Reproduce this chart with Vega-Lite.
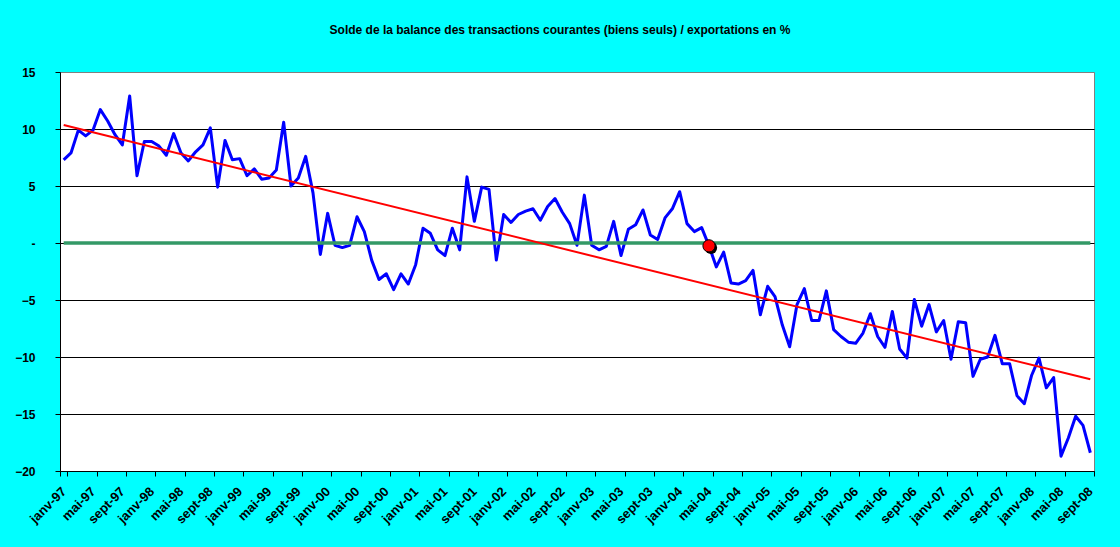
{
  "$schema": "https://vega.github.io/schema/vega-lite/v6.json",
  "width": 1034,
  "height": 399,
  "autosize": {"type": "none"},
  "padding": {"left": 60, "top": 72, "right": 26, "bottom": 76},
  "background": "#00FFFF",
  "title": {
    "text": "Solde de la balance des transactions courantes (biens seuls) / exportations en %",
    "font": "Liberation Sans",
    "fontSize": 12,
    "fontWeight": "bold",
    "color": "black",
    "anchor": "middle",
    "offset": 29,
    "dx": -17
  },
  "config": {
    "font": "Liberation Sans",
    "view": {"fill": "white", "stroke": "#808080", "strokeWidth": 1}
  },
  "datasets": {
    "solde": [
      {"mois": "janv-97", "valeur": 7.3}, {"mois": "févr-97", "valeur": 7.9}, {"mois": "mars-97", "valeur": 9.9}, {"mois": "avr-97", "valeur": 9.4},
      {"mois": "mai-97", "valeur": 9.9}, {"mois": "juin-97", "valeur": 11.7}, {"mois": "juil-97", "valeur": 10.7}, {"mois": "août-97", "valeur": 9.5},
      {"mois": "sept-97", "valeur": 8.6}, {"mois": "oct-97", "valeur": 12.9}, {"mois": "nov-97", "valeur": 5.9}, {"mois": "déc-97", "valeur": 8.9},
      {"mois": "janv-98", "valeur": 8.9}, {"mois": "févr-98", "valeur": 8.5}, {"mois": "mars-98", "valeur": 7.7}, {"mois": "avr-98", "valeur": 9.6},
      {"mois": "mai-98", "valeur": 7.9}, {"mois": "juin-98", "valeur": 7.2}, {"mois": "juil-98", "valeur": 8.0}, {"mois": "août-98", "valeur": 8.6},
      {"mois": "sept-98", "valeur": 10.1}, {"mois": "oct-98", "valeur": 4.9}, {"mois": "nov-98", "valeur": 9.0}, {"mois": "déc-98", "valeur": 7.3},
      {"mois": "janv-99", "valeur": 7.4}, {"mois": "févr-99", "valeur": 5.9}, {"mois": "mars-99", "valeur": 6.5}, {"mois": "avr-99", "valeur": 5.6},
      {"mois": "mai-99", "valeur": 5.7}, {"mois": "juin-99", "valeur": 6.4}, {"mois": "juil-99", "valeur": 10.6}, {"mois": "août-99", "valeur": 5.0},
      {"mois": "sept-99", "valeur": 5.7}, {"mois": "oct-99", "valeur": 7.6}, {"mois": "nov-99", "valeur": 4.4}, {"mois": "déc-99", "valeur": -1.0},
      {"mois": "janv-00", "valeur": 2.6}, {"mois": "févr-00", "valeur": -0.2}, {"mois": "mars-00", "valeur": -0.4}, {"mois": "avr-00", "valeur": -0.2},
      {"mois": "mai-00", "valeur": 2.3}, {"mois": "juin-00", "valeur": 1.0}, {"mois": "juil-00", "valeur": -1.5}, {"mois": "août-00", "valeur": -3.2},
      {"mois": "sept-00", "valeur": -2.7}, {"mois": "oct-00", "valeur": -4.1}, {"mois": "nov-00", "valeur": -2.7}, {"mois": "déc-00", "valeur": -3.6},
      {"mois": "janv-01", "valeur": -1.9}, {"mois": "févr-01", "valeur": 1.3}, {"mois": "mars-01", "valeur": 0.85}, {"mois": "avr-01", "valeur": -0.6},
      {"mois": "mai-01", "valeur": -1.1}, {"mois": "juin-01", "valeur": 1.3}, {"mois": "juil-01", "valeur": -0.6}, {"mois": "août-01", "valeur": 5.8},
      {"mois": "sept-01", "valeur": 1.9}, {"mois": "oct-01", "valeur": 4.9}, {"mois": "nov-01", "valeur": 4.7}, {"mois": "déc-01", "valeur": -1.5},
      {"mois": "janv-02", "valeur": 2.5}, {"mois": "févr-02", "valeur": 1.8}, {"mois": "mars-02", "valeur": 2.5}, {"mois": "avr-02", "valeur": 2.8},
      {"mois": "mai-02", "valeur": 3.0}, {"mois": "juin-02", "valeur": 2.0}, {"mois": "juil-02", "valeur": 3.2}, {"mois": "août-02", "valeur": 3.9},
      {"mois": "sept-02", "valeur": 2.7}, {"mois": "oct-02", "valeur": 1.7}, {"mois": "nov-02", "valeur": -0.2}, {"mois": "déc-02", "valeur": 4.2},
      {"mois": "janv-03", "valeur": -0.2}, {"mois": "févr-03", "valeur": -0.6}, {"mois": "mars-03", "valeur": -0.3}, {"mois": "avr-03", "valeur": 1.9},
      {"mois": "mai-03", "valeur": -1.1}, {"mois": "juin-03", "valeur": 1.2}, {"mois": "juil-03", "valeur": 1.6}, {"mois": "août-03", "valeur": 2.9},
      {"mois": "sept-03", "valeur": 0.7}, {"mois": "oct-03", "valeur": 0.3}, {"mois": "nov-03", "valeur": 2.2}, {"mois": "déc-03", "valeur": 3.0},
      {"mois": "janv-04", "valeur": 4.5}, {"mois": "févr-04", "valeur": 1.7}, {"mois": "mars-04", "valeur": 1.0}, {"mois": "avr-04", "valeur": 1.35},
      {"mois": "mai-04", "valeur": -0.25}, {"mois": "juin-04", "valeur": -2.1}, {"mois": "juil-04", "valeur": -0.8}, {"mois": "août-04", "valeur": -3.5},
      {"mois": "sept-04", "valeur": -3.6}, {"mois": "oct-04", "valeur": -3.3}, {"mois": "nov-04", "valeur": -2.4}, {"mois": "déc-04", "valeur": -6.3},
      {"mois": "janv-05", "valeur": -3.8}, {"mois": "févr-05", "valeur": -4.7}, {"mois": "mars-05", "valeur": -7.2}, {"mois": "avr-05", "valeur": -9.1},
      {"mois": "mai-05", "valeur": -5.4}, {"mois": "juin-05", "valeur": -4.0}, {"mois": "juil-05", "valeur": -6.8}, {"mois": "août-05", "valeur": -6.8},
      {"mois": "sept-05", "valeur": -4.2}, {"mois": "oct-05", "valeur": -7.6}, {"mois": "nov-05", "valeur": -8.2}, {"mois": "déc-05", "valeur": -8.7},
      {"mois": "janv-06", "valeur": -8.8}, {"mois": "févr-06", "valeur": -7.9}, {"mois": "mars-06", "valeur": -6.2}, {"mois": "avr-06", "valeur": -8.2},
      {"mois": "mai-06", "valeur": -9.15}, {"mois": "juin-06", "valeur": -6.0}, {"mois": "juil-06", "valeur": -9.3}, {"mois": "août-06", "valeur": -10.1},
      {"mois": "sept-06", "valeur": -4.95}, {"mois": "oct-06", "valeur": -7.3}, {"mois": "nov-06", "valeur": -5.4}, {"mois": "déc-06", "valeur": -7.8},
      {"mois": "janv-07", "valeur": -6.8}, {"mois": "févr-07", "valeur": -10.2}, {"mois": "mars-07", "valeur": -6.9}, {"mois": "avr-07", "valeur": -7.0},
      {"mois": "mai-07", "valeur": -11.7}, {"mois": "juin-07", "valeur": -10.2}, {"mois": "juil-07", "valeur": -10.0}, {"mois": "août-07", "valeur": -8.1},
      {"mois": "sept-07", "valeur": -10.6}, {"mois": "oct-07", "valeur": -10.6}, {"mois": "nov-07", "valeur": -13.4}, {"mois": "déc-07", "valeur": -14.1},
      {"mois": "janv-08", "valeur": -11.6}, {"mois": "févr-08", "valeur": -10.1}, {"mois": "mars-08", "valeur": -12.7}, {"mois": "avr-08", "valeur": -11.8},
      {"mois": "mai-08", "valeur": -18.7}, {"mois": "juin-08", "valeur": -17.1}, {"mois": "juil-08", "valeur": -15.2}, {"mois": "août-08", "valeur": -16.0},
      {"mois": "sept-08", "valeur": -18.4}
    ],
    "zero": [
      {"mois": "janv-97", "valeur": 0},
      {"mois": "sept-08", "valeur": 0}
    ],
    "tendance": [
      {"mois": "janv-97", "valeur": 10.35},
      {"mois": "sept-08", "valeur": -11.96}
    ],
    "point": [
      {"mois": "mai-04", "valeur": -0.25}
    ]
  },
  "layer": [
    {
      "data": {"name": "solde"},
      "mark": {"type": "line", "color": "#0000FF", "strokeWidth": 3, "strokeJoin": "round"},
      "encoding": {
        "x": {
          "field": "mois",
          "type": "ordinal",
          "sort": null,
          "scale": {"type": "band", "paddingInner": 0, "paddingOuter": 0},
          "axis": {
            "title": null,
            "values": ["janv-97", "mai-97", "sept-97", "janv-98", "mai-98", "sept-98", "janv-99", "mai-99", "sept-99",
                       "janv-00", "mai-00", "sept-00", "janv-01", "mai-01", "sept-01", "janv-02", "mai-02", "sept-02",
                       "janv-03", "mai-03", "sept-03", "janv-04", "mai-04", "sept-04", "janv-05", "mai-05", "sept-05",
                       "janv-06", "mai-06", "sept-06", "janv-07", "mai-07", "sept-07", "janv-08", "mai-08", "sept-08"],
            "tickBand": "extent",
            "labelAngle": -45,
            "labelAlign": "right",
            "labelBaseline": "middle",
            "labelFont": "Liberation Sans",
            "labelFontSize": 13,
            "labelFontWeight": "bold",
            "labelColor": "black",
            "labelPadding": 13,
            "domainColor": "black",
            "tickColor": "black",
            "tickSize": 5,
            "grid": false
          }
        },
        "y": {
          "field": "valeur",
          "type": "quantitative",
          "scale": {"domain": [-20, 15], "nice": false},
          "axis": {
            "title": null,
            "values": [-20, -15, -10, -5, 0, 5, 10, 15],
            "labelExpr": "datum.value == 0 ? '-' : datum.label",
            "labelFont": "Liberation Sans",
            "labelFontSize": 12,
            "labelFontWeight": "bold",
            "labelColor": "black",
            "labelPadding": 20,
            "domainColor": "black",
            "tickColor": "black",
            "tickSize": 5,
            "grid": true,
            "gridColor": {"condition": {"test": "datum.value == 15", "value": "#808080"}, "value": "black"},
            "gridWidth": 1,
            "gridOpacity": 1
          }
        }
      }
    },
    {
      "data": {"name": "zero"},
      "mark": {"type": "line", "color": "#339966", "strokeWidth": 3.5},
      "encoding": {
        "x": {"field": "mois", "type": "ordinal", "sort": null},
        "y": {"field": "valeur", "type": "quantitative"}
      }
    },
    {
      "data": {"name": "tendance"},
      "mark": {"type": "line", "color": "#FF0000", "strokeWidth": 2},
      "encoding": {
        "x": {"field": "mois", "type": "ordinal", "sort": null},
        "y": {"field": "valeur", "type": "quantitative"}
      }
    },
    {
      "data": {"name": "point"},
      "mark": {"type": "point", "filled": true, "color": "black", "opacity": 1, "size": 150, "xOffset": 2, "yOffset": 2},
      "encoding": {
        "x": {"field": "mois", "type": "ordinal", "sort": null},
        "y": {"field": "valeur", "type": "quantitative"}
      }
    },
    {
      "data": {"name": "point"},
      "mark": {"type": "point", "filled": true, "fill": "#FF0000", "stroke": "black", "strokeWidth": 1, "opacity": 1, "size": 150},
      "encoding": {
        "x": {"field": "mois", "type": "ordinal", "sort": null},
        "y": {"field": "valeur", "type": "quantitative"}
      }
    }
  ]
}
